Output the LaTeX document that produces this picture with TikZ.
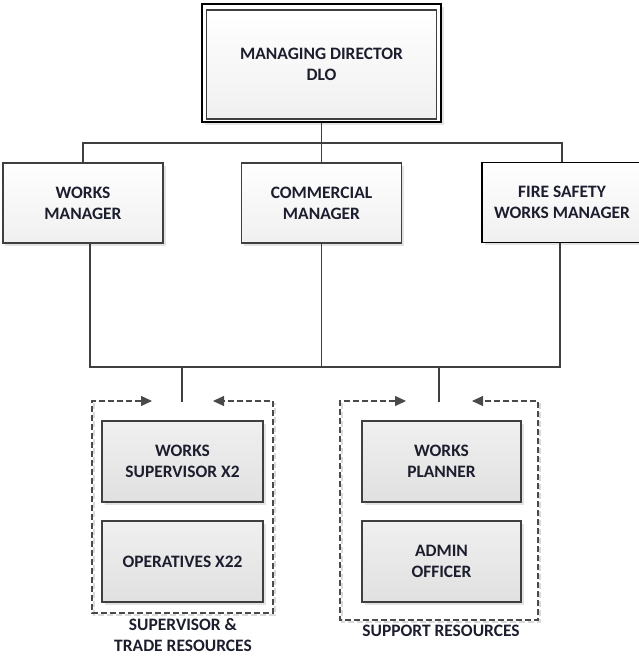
\documentclass[tikz,border=0pt]{standalone}
\usepackage{fontspec}
\setmainfont{Carlito}
\usetikzlibrary{arrows.meta,shadows}
\definecolor{txt}{HTML}{1C1E2E}
\definecolor{ln}{HTML}{3F3F3F}
\definecolor{dsh}{HTML}{4A4A4A}
\tikzset{
  lbl/.style={font=\bfseries\fontsize{17.5}{21}\selectfont, text=txt, align=center},
  mgr/.style={lbl, draw=ln, line width=1.1bp, top color=white, bottom color=black!6,
    inner sep=0pt, minimum width=160bp, minimum height=80bp,
    drop shadow={shadow xshift=2.5bp, shadow yshift=-2.5bp, opacity=0.18, fill=black!60}},
  unit/.style={lbl, draw=ln, line width=1.1bp, top color=black!6, bottom color=black!12,
    inner sep=0pt, minimum width=161bp, minimum height=81bp,
    drop shadow={shadow xshift=2.5bp, shadow yshift=-2.5bp, opacity=0.18, fill=black!60}},
  conn/.style={draw=ln, line width=1.1bp},
  grp/.style={draw=dsh, line width=1.1bp, dash pattern=on 6bp off 3bp,
    {Triangle[length=11bp,width=10bp]}-{Triangle[length=11bp,width=10bp]}},
  grpshade/.style={draw=black!15, line width=1.1bp, dash pattern=on 6bp off 3bp},
  grpcaption/.style={lbl}
}
\begin{document}
\begin{tikzpicture}[x=1bp,y=-1bp]
\useasboundingbox (0,0) rectangle (639,656);
\clip (0,0) rectangle (639,656);

% managing director, double frame
\node[lbl, draw=black, line width=2.2bp, fill=white, inner sep=0pt,
  minimum width=239bp, minimum height=118bp,
  drop shadow={shadow xshift=3bp, shadow yshift=-3bp, opacity=0.18, fill=black!60}]
  (md) at (321.5,63) {};
\node[lbl, draw=ln, line width=1.1bp, top color=white, bottom color=black!6, inner sep=0pt,
  minimum width=230bp, minimum height=109bp] (mdin) at (321.5,64.5)
  {MANAGING DIRECTOR\\DLO};

% managers
\node[mgr] (wm) at (83,203) {WORKS\\MANAGER};
\node[mgr] (cm) at (321.5,203) {COMMERCIAL\\MANAGER};
\node[mgr, draw=black, line width=1.4bp] (fs) at (562,202.5) {FIRE SAFETY\\WORKS MANAGER};

% upper connectors
\coordinate (bus1) at (321.5,143);
\draw[conn] (md.south) -- (cm.north);
\draw[conn] (wm.north) |- (bus1) -| (fs.north);

% lower connectors
\coordinate (bus2) at (321.5,367);
\coordinate (wmo) at (90,243);
\coordinate (fso) at (560,243);
\draw[conn] (wmo) |- (bus2) -| (fso);
\draw[conn] (cm.south) -- (bus2);

% resource groups
\coordinate (g1a) at (152,401);
\coordinate (g1b) at (213,401);
\coordinate (g2a) at (406,401);
\coordinate (g2b) at (472,401);
\coordinate (d1) at (182,402);
\coordinate (d2) at (439,402);
\draw[conn] (d1 |- bus2) -- (d1);
\draw[conn] (d2 |- bus2) -- (d2);

\draw[grpshade] (94,403) -- (94,615) -- (275,615) -- (275,403);
\draw[grp] (g1a) -- (92,401) -- (92,613) -- (273,613) -- (273,401) -- (g1b);
\draw[grpshade] (342,403) -- (342,622) -- (540,622) -- (540,403);
\draw[grp] (g2a) -- (340,401) -- (340,620) -- (538,620) -- (538,401) -- (g2b);

% units
\node[unit] (ws) at (182.5,461.5) {WORKS\\SUPERVISOR X2};
\node[unit] (op) at (182.5,561.5) {OPERATIVES X22};
\node[unit, minimum width=159bp] (wp) at (441.5,461.5) {WORKS\\PLANNER};
\node[unit, minimum width=159bp] (ao) at (441.5,561.5) {ADMIN\\OFFICER};

% group captions
\node[grpcaption] (c1) at (183,635) {SUPERVISOR \&\\TRADE RESOURCES};
\node[grpcaption] (c2) at (441,631) {SUPPORT RESOURCES};
\end{tikzpicture}
\end{document}
